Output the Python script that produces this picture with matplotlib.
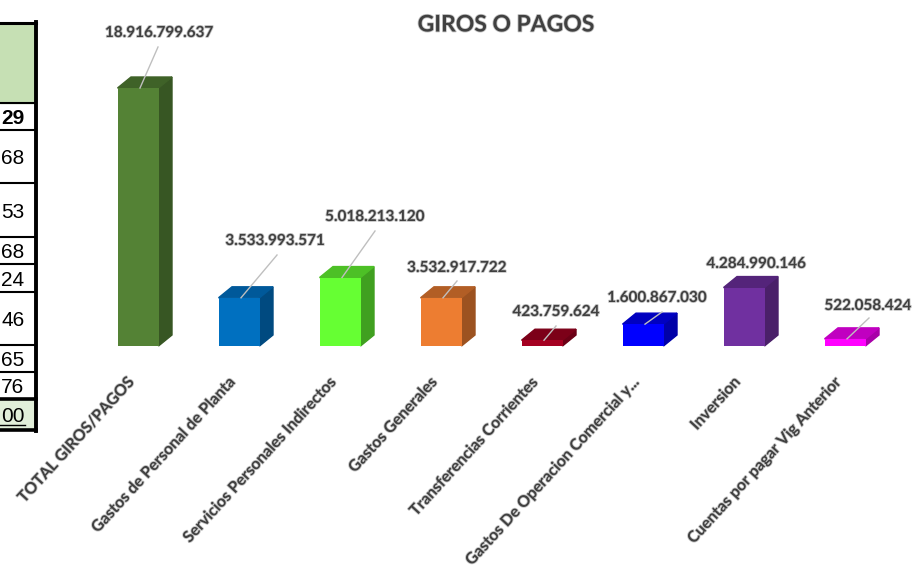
import matplotlib
matplotlib.use("Agg")
import matplotlib.pyplot as plt
from matplotlib.patches import Polygon, Rectangle
import matplotlib.patheffects as pe

categories = ["TOTAL GIROS/PAGOS", "Gastos de Personal de Planta", "Servicios Personales Indirectos",
              "Gastos Generales", "Transferencias Corrientes", "Gastos De Operacion Comercial y...",
              "Inversion", "Cuentas por pagar Vig Anterior"]
values = [18916799637, 3533993571, 5018213120, 3532917722, 423759624, 1600867030, 4284990146, 522058424]
front = ["#548235", "#0070C0", "#66FF33", "#ED7D31", "#A50021", "#0000FF", "#7030A0", "#FF00FF"]
side = ["#375623", "#004A80", "#40A020", "#9C5220", "#6B0015", "#0000A8", "#4A2069", "#A800A8"]
top = ["#3F6228", "#00599A", "#4DC026", "#B25E25", "#7C0018", "#0000C0", "#54247A", "#C000C0"]
label_px = [(159, 33), (275, 241), (375, 217), (457, 268), (556, 312), (657, 298), (756, 264), (868, 306)]
leader_end_px = [(158, 47), (277, 255), (375, 231), (457, 281), (556, 326), (662, 312), None, (869, 318)]

table_tails = ["29", "68", "53", "68", "24", "46", "65", "76", "00"]
table_rows = [103, 130, 183, 237, 264, 292, 345, 372, 399, 430]

W, H = 915, 573
fig = plt.figure(figsize=(W / 100, H / 100), dpi=100, facecolor="white")

x0, step = 138.0, 101.0
base_px, k = 346.0, 18916799637 / 258.0
ax = fig.add_axes([0, 0, 1, 1])
ax.set_xlim(-x0 / step, (W - x0) / step)
ax.set_ylim(-(H - base_px) * k, base_px * k)
ax.axis("off")
bw = 41 / step
dx, dy = 13.5 / step, 11 * k

font = ["Lato", "DejaVu Sans"]
soft = [pe.withStroke(linewidth=1.2, foreground="#c4c4c4")]

ax.bar(range(len(values)), values, width=bw, color=front, zorder=3)
for i, v in enumerate(values):
    l, r = i - bw / 2, i + bw / 2
    ax.add_patch(Polygon([(r, 0), (r + dx, dy), (r + dx, v + dy), (r, v)], closed=True, color=side[i], zorder=2))
    ax.add_patch(Polygon([(l, v), (r, v), (r + dx, v + dy), (l + dx, v + dy)], closed=True, color=top[i], zorder=2))

px = fig.add_axes([0, 0, 1, 1], facecolor="none")
px.set_xlim(0, W)
px.set_ylim(H, 0)
px.axis("off")

for i, v in enumerate(values):
    cx = x0 + step * i
    py = base_px - v / k
    end = leader_end_px[i]
    if end:
        px.plot([cx + 2, end[0]], [py, end[1]], color="#bfbfbf", lw=1, zorder=5)
    tx, ty = label_px[i]
    px.text(tx, ty, f"{v:,}".replace(",", "."), ha="center", va="center", fontsize=11, fontweight="bold",
            family=font, color="#404040", path_effects=soft, zorder=6)
    px.text(cx - 11, 375, categories[i], rotation=47.5, rotation_mode="anchor", ha="right", va="top", fontsize=11.4,
            fontweight="bold", family=font, color="#404040", path_effects=soft, zorder=6)

px.text(506, 25, "GIROS O PAGOS", ha="center", va="center", fontsize=16.5, fontweight="bold", family=font,
        color="#404040", path_effects=soft)

tr = 36
px.add_patch(Rectangle((0, 23), tr, table_rows[0] - 23, color="#C6E0B4", zorder=1))
px.add_patch(Rectangle((0, table_rows[-2]), tr, table_rows[-1] - table_rows[-2], color="#E2EFDA", zorder=1))
px.plot([0, tr], [23, 23], color="black", lw=2.2, zorder=4)
for y in table_rows:
    px.plot([0, tr], [y, y], color="black", lw=2.6 if y in (399, 430) else 1.5, zorder=4)
px.plot([tr, tr], [22, 431], color="black", lw=2.8, zorder=4)
for j, t in enumerate(table_tails):
    ym = (table_rows[j] + table_rows[j + 1]) / 2
    px.text(24.5, ym + 2, t, ha="right", va="center", fontsize=15, family="Liberation Sans",
            fontweight="bold" if j == 0 else "normal", color="black", zorder=5)
px.plot([0, 25], [425, 425], color="black", lw=1, zorder=5)

fig.savefig("out.png", dpi=100)
